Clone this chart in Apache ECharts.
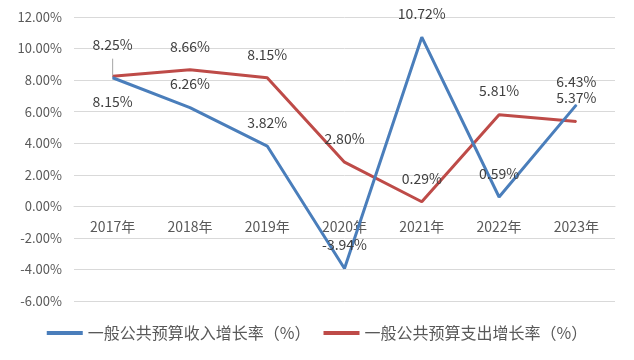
<!DOCTYPE html>
<html><head><meta charset="utf-8">
<script src="https://cdn.jsdelivr.net/npm/echarts@6/dist/echarts.min.js"></script>
<style>html,body{margin:0;padding:0;background:#fff}#c{width:634px;height:360px}</style>
</head><body><div id="c"></div>
<script>
var categories = ['2017年','2018年','2019年','2020年','2021年','2022年','2023年'];
var incomeName = '一般公共预算收入增长率（%）';
var expenseName = '一般公共预算支出增长率（%）';
var income = [8.15, 6.26, 3.82, -3.94, 10.72, 0.59, 6.43];
var expense = [8.25, 8.66, 8.15, 2.80, 0.29, 5.81, 5.37];
var yMin = -6, yMax = 12, yStep = 2;

var FONT = '"Noto Sans CJK SC", "DejaVu Sans", sans-serif';
var GRID = {left: 74, right: 19, top: 17, bottom: 59};
var plotH = 360 - GRID.top - GRID.bottom;
var zeroOffset = -plotH * (0 - yMin) / (yMax - yMin);
var chart = echarts.init(document.getElementById('c'));
function pct(v){ return v.toFixed(2) + '%'; }
var incomeData = income.map(function(v, i){
  var d = {value: v};
  if (i === 0) d.label = {position: 'bottom'};
  return d;
});
var expenseData = expense.map(function(v, i){
  var d = {value: v};
  if (i === 0) {
    d.label = {distance: 24};
    d.labelLine = {show: true, lineStyle: {color: '#a6a6a6', width: 1}};
  }
  return d;
});
var labelBase = {
  show: true, position: 'top', distance: 16,
  fontFamily: FONT, fontSize: 14, color: '#404040',
  formatter: function(p){ return pct(p.value); }
};
chart.setOption({
  animation: false,
  grid: GRID,
  xAxis: {
    type: 'category', data: categories, boundaryGap: true,
    offset: zeroOffset,
    axisLine: {show: true, onZero: false, lineStyle: {color: '#d9d9d9', width: 1}},
    axisTick: {show: false},
    axisLabel: {fontFamily: FONT, fontSize: 14, color: '#595959', margin: 13}
  },
  yAxis: {
    type: 'value', min: yMin, max: yMax, interval: yStep,
    axisLine: {show: false}, axisTick: {show: false},
    splitLine: {lineStyle: {color: '#d9d9d9', width: 1}},
    axisLabel: {fontFamily: FONT, fontSize: 13, color: '#595959', margin: 12,
      formatter: function(v){ return pct(v); }}
  },
  legend: {
    bottom: 14, left: 'center', itemWidth: 36, itemHeight: 4, itemGap: 13,
    textStyle: {fontFamily: FONT, fontSize: 16, color: '#595959'},
    data: [{name: incomeName, icon: 'rect'}, {name: expenseName, icon: 'rect'}]
  },
  series: [
    {name: incomeName, type: 'line', data: incomeData, symbol: 'circle', symbolSize: 1,
     color: '#4a7ebb', lineStyle: {width: 3, color: '#4a7ebb'}, itemStyle: {color: '#4a7ebb'},
     label: labelBase, z: 3},
    {name: expenseName, type: 'line', data: expenseData, symbol: 'circle', symbolSize: 1,
     color: '#be4b48', lineStyle: {width: 3, color: '#be4b48'}, itemStyle: {color: '#be4b48'},
     label: labelBase, z: 2}
  ]
});
</script></body></html>
